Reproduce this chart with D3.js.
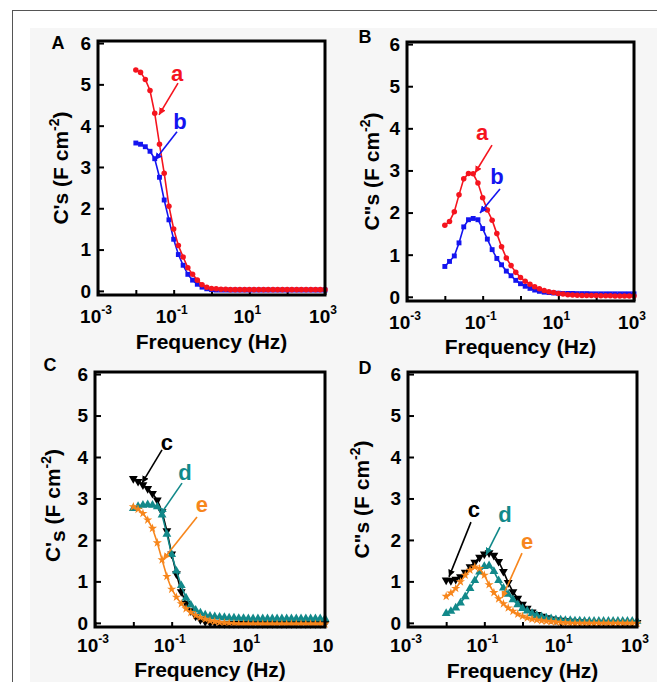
<!DOCTYPE html>
<html><head><meta charset="utf-8">
<script src="https://cdn.jsdelivr.net/npm/d3@7"></script>
<style>
body{margin:0;background:#fff}
svg{display:block;font-family:"Liberation Sans",Arial,sans-serif;font-weight:bold}
</style>
</head><body>
<svg id="chart" width="657" height="682"></svg>
<script>
// ---------- data ----------
const freq = [0.01,0.0133,0.0178,0.0237,0.0316,0.0422,0.0562,0.075,0.1,0.133,0.178,0.237,0.316,0.422,0.562,0.75,
  1,1.33,1.78,2.37,3.16,4.22,5.62,7.5,10,13.3,17.8,23.7,31.6,42.2,56.2,75,100,133,178,237,316,422,562,750,1000];

const tickFreqs = [0.001,0.01,0.1,1,10,100,1000];
const labelFreqs = [0.001,0.1,10,1000];
const xLabelExpStd = ["-3","-1","1","3"];
const xLabelExpC = ["-3","-1","1",""];
const yTicks = [0,1,2,3,4,5,6];

// Panel A: C's
const A_a = [5.35,5.29,5.12,4.85,4.30,3.55,2.85,2.05,1.50,1.10,0.82,0.56,0.40,0.26,0.15,0.09,
  0.06,0.05,0.04,0.04,0.03,0.03,0.03,0.03,0.03,0.03,0.03,0.03,0.03,0.03,0.03,0.03,0.03,0.03,0.03,0.03,0.03,0.03,0.03,0.03,0.03];
const A_b = [3.58,3.55,3.49,3.38,3.20,2.75,2.20,1.72,1.25,0.88,0.62,0.40,0.26,0.16,0.09,0.05,
  0.03,0.02,0.02,0.02,0.02,0.02,0.02,0.02,0.02,0.02,0.02,0.02,0.02,0.02,0.02,0.02,0.02,0.02,0.02,0.02,0.02,0.02,0.02,0.02,0.02];
// Panel B: C''s
const B_a = [1.70,1.79,2.02,2.42,2.80,2.93,2.92,2.70,2.35,2.06,1.82,1.50,1.19,0.92,0.74,0.58,
  0.46,0.37,0.30,0.24,0.19,0.15,0.12,0.10,0.08,0.065,0.05,0.04,0.035,0.03,0.03,0.03,0.03,0.025,0.025,0.025,0.02,0.02,0.02,0.02,0.02];
const B_b = [0.72,0.84,0.97,1.28,1.66,1.83,1.86,1.83,1.62,1.37,1.12,0.91,0.76,0.61,0.50,0.39,
  0.31,0.25,0.20,0.16,0.13,0.11,0.10,0.09,0.085,0.08,0.08,0.08,0.075,0.075,0.075,0.07,0.07,0.07,0.07,0.07,0.07,0.07,0.07,0.07,0.07];
// Panel C: C's
const C_c = [3.48,3.41,3.33,3.24,3.12,2.96,2.68,2.22,1.66,1.18,0.75,0.47,0.29,0.16,0.08,0.03,
  0.01,0.0,-0.01,-0.02,-0.02,-0.02,-0.02,-0.02,-0.02,-0.02,-0.02,-0.02,-0.02,-0.02,-0.02,-0.02,-0.02,-0.02,-0.02,-0.02,-0.02,-0.02,-0.02,-0.02,-0.02];
const C_d = [2.76,2.81,2.84,2.85,2.84,2.80,2.60,2.14,1.65,1.25,0.90,0.60,0.43,0.31,0.24,0.19,
  0.16,0.15,0.14,0.13,0.12,0.12,0.11,0.11,0.10,0.10,0.10,0.10,0.10,0.10,0.10,0.10,0.10,0.10,0.10,0.10,0.10,0.10,0.10,0.10,0.10];
const C_e = [2.80,2.74,2.64,2.48,2.28,1.93,1.52,1.12,0.81,0.62,0.46,0.34,0.25,0.18,0.13,0.09,
  0.05,0.03,0.01,0.0,-0.01,-0.02,-0.03,-0.03,-0.03,-0.03,-0.03,-0.03,-0.03,-0.03,-0.03,-0.03,-0.03,-0.03,-0.03,-0.03,-0.03,-0.03,-0.03,-0.03,-0.03];
// Panel D: C''s
const D_c = [1.03,1.02,1.05,1.11,1.22,1.35,1.46,1.58,1.66,1.69,1.63,1.48,1.24,0.97,0.75,0.59,
  0.45,0.35,0.26,0.20,0.16,0.12,0.09,0.07,0.06,0.05,0.04,0.03,0.02,0.02,0.01,0.01,0.01,0.01,0.01,0.01,0.01,0.01,0.01,0.01,0.01];
const D_d = [0.23,0.28,0.36,0.48,0.63,0.83,1.02,1.23,1.36,1.38,1.24,1.02,0.84,0.69,0.56,0.44,
  0.35,0.29,0.23,0.18,0.15,0.12,0.10,0.08,0.07,0.06,0.06,0.05,0.05,0.04,0.04,0.04,0.04,0.04,0.04,0.04,0.04,0.04,0.04,0.04,0.04];
const D_e = [0.64,0.72,0.83,0.99,1.15,1.27,1.35,1.31,1.15,0.92,0.73,0.58,0.46,0.36,0.28,0.21,
  0.16,0.12,0.09,0.07,0.05,0.04,0.03,0.02,0.01,0.0,-0.01,-0.01,-0.01,-0.01,-0.01,-0.01,-0.01,-0.01,-0.01,-0.01,-0.01,-0.01,-0.01,-0.01,-0.01];

// annotation positions in data space: [log10(frequency), value]
const annA = [
  {t:"a", s:"red",  lab:[-0.91,5.23],  from:[-0.885,5.03], to:[-1.388,4.26]},
  {t:"b", s:"blue", lab:[-0.83,4.09],  from:[-0.912,3.85], to:[-1.493,3.17]}];
const annB = [
  {t:"a", s:"red",  lab:[-1.017,3.89], from:[-0.753,3.60], to:[-1.203,2.94]},
  {t:"b", s:"blue", lab:[-0.621,2.84], from:[-0.542,2.56], to:[-1.07,1.99]}];
const annC = [
  {t:"c", s:"black",  lab:[-1.122,4.34], from:[-1.252,4.17], to:[-1.774,3.37]},
  {t:"d", s:"teal",   lab:[-0.652,3.61], from:[-0.73,3.37],  to:[-1.304,2.60]},
  {t:"e", s:"orange", lab:[-0.209,2.84], from:[-0.339,2.55], to:[-1.226,1.52]}];
const annD = [
  {t:"c", s:"black",  lab:[-1.271,2.72], from:[-1.35,2.43],  to:[-1.926,1.11]},
  {t:"d", s:"teal",   lab:[-0.459,2.60], from:[-0.59,2.31],  to:[-0.957,1.64]},
  {t:"e", s:"orange", lab:[0.118,1.95],  from:[-0.013,1.68], to:[-0.537,0.60]}];

// ---------- styles ----------
const styles = {
  red:    {color:"#f5141e", sym:"circle"},
  blue:   {color:"#1414f0", sym:"square"},
  black:  {color:"#000000", sym:"tridown"},
  teal:   {color:"#12898a", sym:"triup"},
  orange: {color:"#f7861c", sym:"star"}
};

const svg = d3.select("#chart");
svg.append("rect").attr("x",30).attr("y",28).attr("width",640).attr("height",700).attr("fill","#f6f6f6");
svg.append("rect").attr("x",12.5).attr("y",10.5).attr("width",700).attr("height",700)
  .attr("fill","none").attr("stroke","#555").attr("stroke-width",1);

const defs = svg.append("defs");
Object.entries(styles).forEach(([k,s])=>{
  defs.append("marker").attr("id","ah-"+k).attr("viewBox","0 0 10 10")
    .attr("refX",10).attr("refY",5).attr("markerWidth",7).attr("markerHeight",7)
    .attr("markerUnits","userSpaceOnUse").attr("orient","auto")
    .append("path").attr("d","M0,0L10,5L0,10z").attr("fill",s.color);
});

function symPath(kind){
  if(kind==="circle") return d3.symbol(d3.symbolCircle, 24)();
  if(kind==="square") return d3.symbol(d3.symbolSquare, 24)();
  if(kind==="triup" || kind==="tridown") return d3.symbol(d3.symbolTriangle, 34)();
  if(kind==="star") return d3.symbol(d3.symbolStar, 26)();
}

const panels = [
  {letter:"A", lpos:[58,43], box:[98,41,325,295], yTitle:"prime", ytx:68, xLabDy:28, xTitleY:349, xExp:xLabelExpStd,
   series:[{v:A_b,s:"blue"},{v:A_a,s:"red"}], ann:annA},
  {letter:"B", lpos:[365,37], box:[407,42,634,301], yTitle:"dprime", ytx:379, xLabDy:28, xTitleY:354, xExp:xLabelExpStd,
   series:[{v:B_b,s:"blue"},{v:B_a,s:"red"}], ann:annB},
  {letter:"C", lpos:[50,365], box:[95,372,325,627], yTitle:"primesub", ytx:60, xLabDy:25, xTitleY:677, xExp:xLabelExpC,
   series:[{v:C_c,s:"black"},{v:C_d,s:"teal"},{v:C_e,s:"orange"}], ann:annC},
  {letter:"D", lpos:[365,368], box:[408,372,637,627], yTitle:"dprime", ytx:369, xLabDy:25, xTitleY:678, xExp:xLabelExpStd,
   series:[{v:D_c,s:"black"},{v:D_d,s:"teal"},{v:D_e,s:"orange"}], ann:annD}
];

panels.forEach(p=>{
  const [L,T,R,B] = p.box;
  const x = d3.scaleLog().domain([1e-3,1e3]).range([L,R]);
  const y = d3.scaleLinear().domain([-0.1,6.05]).range([B,T]);
  const g = svg.append("g");

  g.append("rect").attr("x",L).attr("y",T).attr("width",R-L).attr("height",B-T).attr("fill","#fff");

  // ticks (inward)
  g.append("g").attr("transform",`translate(0,${B})`)
    .call(d3.axisBottom(x).tickValues(tickFreqs).tickSize(-5).tickFormat(""))
    .call(a=>{a.select(".domain").remove(); a.selectAll("line").attr("stroke","#000").attr("stroke-width",2);});
  g.append("g").attr("transform",`translate(${L},0)`)
    .call(d3.axisLeft(y).tickValues(yTicks).tickSize(-6).tickFormat(""))
    .call(a=>{a.select(".domain").remove(); a.selectAll("line").attr("stroke","#000").attr("stroke-width",2);});

  // data
  const line = d3.line().x((d,i)=>x(freq[i])).y(d=>y(d));
  p.series.forEach(sr=>{
    const st = styles[sr.s];
    g.append("path").datum(sr.v).attr("d",line).attr("fill","none")
      .attr("stroke",st.color).attr("stroke-width",1.6);
    const sp = symPath(st.sym);
    g.append("g").selectAll("path").data(sr.v).join("path")
      .attr("d",sp)
      .attr("transform",(d,i)=>`translate(${x(freq[i])},${y(d)})${st.sym==="tridown"?" rotate(180)":""}`)
      .attr("fill",st.color);
  });

  // frame
  g.append("rect").attr("x",L).attr("y",T).attr("width",R-L).attr("height",B-T)
    .attr("fill","none").attr("stroke","#000").attr("stroke-width",3);

  // x tick labels
  labelFreqs.forEach((f,i)=>{
    const t = g.append("text").attr("x",x(f)-2).attr("y",B+p.xLabDy).attr("text-anchor","middle")
      .attr("font-size",19).attr("fill","#000");
    t.append("tspan").text("10");
    if(p.xExp[i]!=="") t.append("tspan").attr("dy",-9).attr("font-size",12).text(p.xExp[i]);
  });
  // y tick labels
  yTicks.forEach(v=>{
    g.append("text").attr("x",L-7).attr("y",y(v)).attr("dy","0.36em").attr("text-anchor","end")
      .attr("font-size",19).text(v);
  });

  // x title
  g.append("text").attr("x",(L+R)/2).attr("y",p.xTitleY).attr("text-anchor","middle")
    .attr("font-size",21).text("Frequency (Hz)");

  // y title
  const cy = (T+B)/2 + (p.yTitle==="primesub"?6:0);
  const yt = g.append("text").attr("transform",`translate(${p.ytx},${cy}) rotate(-90)`)
    .attr("text-anchor","middle").attr("font-size",21);
  if(p.yTitle==="prime"){ yt.append("tspan").text("C's (F cm"); }
  else if(p.yTitle==="dprime"){ yt.append("tspan").text("C\"s (F cm"); }
  else { yt.append("tspan").text("C'"); yt.append("tspan").attr("dy",5).text("s");
         yt.append("tspan").attr("dy",-5).text(" (F cm"); }
  yt.append("tspan").attr("dy",-9).attr("font-size",14).text("-2");
  yt.append("tspan").attr("dy",9).text(")");

  // panel letter
  g.append("text").attr("x",p.lpos[0]).attr("y",p.lpos[1]).attr("dy","0.36em").attr("text-anchor","middle")
    .attr("font-size",18).text(p.letter);

  // annotations
  p.ann.forEach(a=>{
    const st = styles[a.s];
    const P = q=>[x(Math.pow(10,q[0])), y(q[1])];
    const f = P(a.from), t = P(a.to), l = P(a.lab);
    g.append("line").attr("x1",f[0]).attr("y1",f[1]).attr("x2",t[0]).attr("y2",t[1])
      .attr("stroke",st.color).attr("stroke-width",1.6).attr("marker-end",`url(#ah-${a.s})`);
    g.append("text").attr("x",l[0]).attr("y",l[1]).attr("dy","0.3em").attr("text-anchor","middle")
      .attr("font-size",22).attr("fill",st.color).text(a.t);
  });
});
</script>
</body></html>
